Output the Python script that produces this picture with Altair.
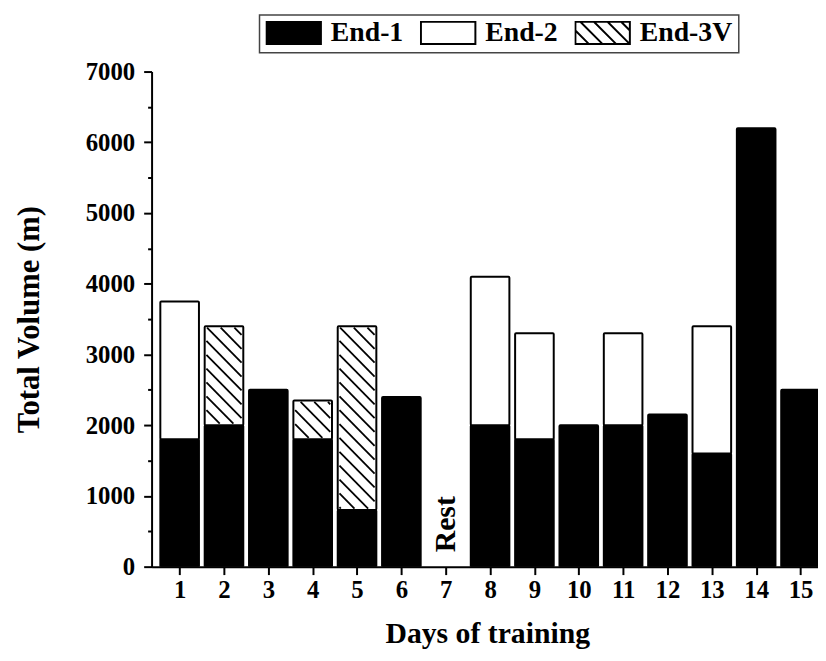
import altair as alt
import pandas as pd

# ---------------- data ----------------
days = list(range(1, 16))
end1 = [1800, 2000, 2500, 1800, 800, 2400, 0, 2000, 1800, 2000, 2000, 2150, 1600, 6200, 2500]
end2 = [1950, 0, 0, 0, 0, 0, 0, 2100, 1500, 0, 1300, 0, 1800, 0, 0]
end3v = [0, 1400, 0, 550, 2600, 0, 0, 0, 0, 0, 0, 0, 0, 0, 0]
series = ["End-1", "End-2", "End-3V"]
series_fill = ["black", "white", "white"]
rest_day = [7]
rest_label = ["Rest"]
rest_y = [600]
y_ticks = list(range(0, 7001, 500))

# ---------------- layout constants ----------------
FONT = "Liberation Serif"
PX_DAY = 45.45
XMIN, XMAX = 0.479, 15.55
XR = (XMAX - XMIN) * PX_DAY
W, H = 673, 500
YMAX = 7000
BAR_W = 39
HATCH_STEP = 14.0

# ---------------- build tables ----------------
rows = []
for d, a, b, c in zip(days, end1, end2, end3v):
    if a > 0:
        rows.append({"day": d, "series": "End-1", "y0": 0, "y1": a, "fillc": "black"})
    if b > 0:
        rows.append({"day": d, "series": "End-2", "y0": a, "y1": a + b, "fillc": "white"})
    if c > 0:
        rows.append({"day": d, "series": "End-3V", "y0": a, "y1": a + c, "fillc": "white"})
bar_df = pd.DataFrame(rows)

# hatch lines ("\" direction) clipped to each End-3V segment, drawn via data scales
px_m = H / YMAX
hrows = []
half = BAR_W / 2 - 1.5
for r in rows:
    if r["series"] != "End-3V":
        continue
    p0 = r["y0"] * px_m + 1.5
    p1 = r["y1"] * px_m - 1.5
    k = (int((p0 - half) // HATCH_STEP)) * HATCH_STEP
    while k <= p1 + half + HATCH_STEP:
        lo = max(-half, k - p1)
        hi = min(half, k - p0)
        if hi - lo > 0.5:
            hrows.append({
                "hx1": r["day"] + lo / PX_DAY, "hy1": (k - lo) / px_m,
                "hx2": r["day"] + hi / PX_DAY, "hy2": (k - hi) / px_m,
            })
        k += HATCH_STEP
hatch_df = pd.DataFrame(hrows)

rest_df = pd.DataFrame({"day": rest_day, "label": rest_label, "y": rest_y})
legend_df = pd.DataFrame({"series": series, "day": [7] * 3, "y": [0] * 3})

# legend symbol paths (unit box)
hh = 0.41
rect = f"M-1,-{hh}L1,-{hh}L1,{hh}L-1,{hh}Z"
segs = []
c = -1 - hh
while c <= 1 + hh:
    lo = max(-1, c - hh)
    hi = min(1, c + hh)
    if hi - lo > 0.05:
        segs.append(f"M{lo:.3f},{lo - c:.3f}L{hi:.3f},{hi - c:.3f}")
    c += 0.5
hatch_path = rect + "".join(segs)
shape_range = [rect, rect, hatch_path]

# ---------------- scales / axes ----------------
x_scale = alt.Scale(domain=[XMIN, XMAX], range=[0, XR], nice=False, zero=False)
y_scale = alt.Scale(domain=[0, YMAX], nice=False)

x_axis = alt.Axis(
    title="Days of training", values=days, format="d",
    labelFont=FONT, labelFontSize=25, labelFontWeight="bold", labelColor="black",
    labelPadding=3, labelAngle=0, labelFlush=False, labelOverlap=False,
    tickSize=8, tickWidth=2, tickColor="black",
    domainColor="black", domainWidth=2, grid=False,
    titleFont=FONT, titleFontSize=30, titleFontWeight="bold", titleColor="black",
    titleX=339, titleY=68, titleBaseline="middle", titleAlign="center",
)
y_axis = alt.Axis(
    title="Total Volume (m)", values=y_ticks, format="d",
    labelExpr="datum.value % 1000 === 0 ? datum.label : ''",
    labelFont=FONT, labelFontSize=25, labelFontWeight="bold", labelColor="black",
    labelPadding=9, labelOverlap=False, labelFlush=False,
    tickSize={"condition": {"test": "datum.value % 1000 === 0", "value": 8}, "value": 4},
    tickWidth=2, tickColor="black",
    domainColor="black", domainWidth=2, grid=False,
    titleFont=FONT, titleFontSize=31, titleFontWeight="bold", titleColor="black",
    titleX=-123, titleY=H / 2, titleAngle=270, titleBaseline="middle", titleAlign="center",
)

leg = alt.Legend(
    title=None, orient="none", legendX=109, legendY=-57, direction="horizontal",
    symbolSize=55 * 55, symbolStrokeWidth=2, symbolStrokeColor="black", symbolOpacity=1,
    labelFont=FONT, labelFontSize=28, labelFontWeight="bold", labelColor="black",
    labelOffset=9, columnPadding=16, padding=6, clipHeight=24,
    strokeColor="#444", fillColor="white",
)

bars = alt.Chart(bar_df).mark_bar(
    width=BAR_W, stroke="black", strokeWidth=2, clip=True, cornerRadius=1
).encode(
    x=alt.X("day:Q", scale=x_scale, axis=x_axis),
    y=alt.Y("y0:Q", scale=y_scale, axis=y_axis),
    y2="y1:Q",
    fill=alt.Fill("fillc:N", scale=None),
)

hatch = alt.Chart(hatch_df).mark_rule(stroke="black", strokeWidth=1.8, clip=True).encode(
    x=alt.X("hx1:Q", scale=x_scale, axis=x_axis),
    x2="hx2:Q",
    y=alt.Y("hy1:Q", scale=y_scale, axis=y_axis),
    y2="hy2:Q",
)

rest = alt.Chart(rest_df).mark_text(
    angle=270, font=FONT, fontSize=30, fontWeight="bold", color="black",
    align="center", baseline="middle"
).encode(
    x=alt.X("day:Q", scale=x_scale, axis=x_axis),
    y=alt.Y("y:Q", scale=y_scale, axis=y_axis),
    text="label:N",
)

legend_layer = alt.Chart(legend_df).mark_point(
    filled=True, opacity=0, stroke="black", strokeWidth=2
).encode(
    x=alt.X("day:Q", scale=x_scale, axis=x_axis),
    y=alt.Y("y:Q", scale=y_scale, axis=y_axis),
    fill=alt.Fill("series:N", scale=alt.Scale(domain=series, range=series_fill), legend=leg),
    shape=alt.Shape("series:N", scale=alt.Scale(domain=series, range=shape_range), legend=leg),
)

chart = alt.layer(bars, hatch, rest, legend_layer).properties(
    width=W, height=H,
    autosize=alt.AutoSizeParams(type="none"),
    padding={"left": 145, "top": 61, "right": 0, "bottom": 83},
    background="white",
).configure_view(stroke=None).configure_legend(strokeWidth=1.5)

chart.save("out.html", embed_options={"renderer": "svg", "actions": False})
